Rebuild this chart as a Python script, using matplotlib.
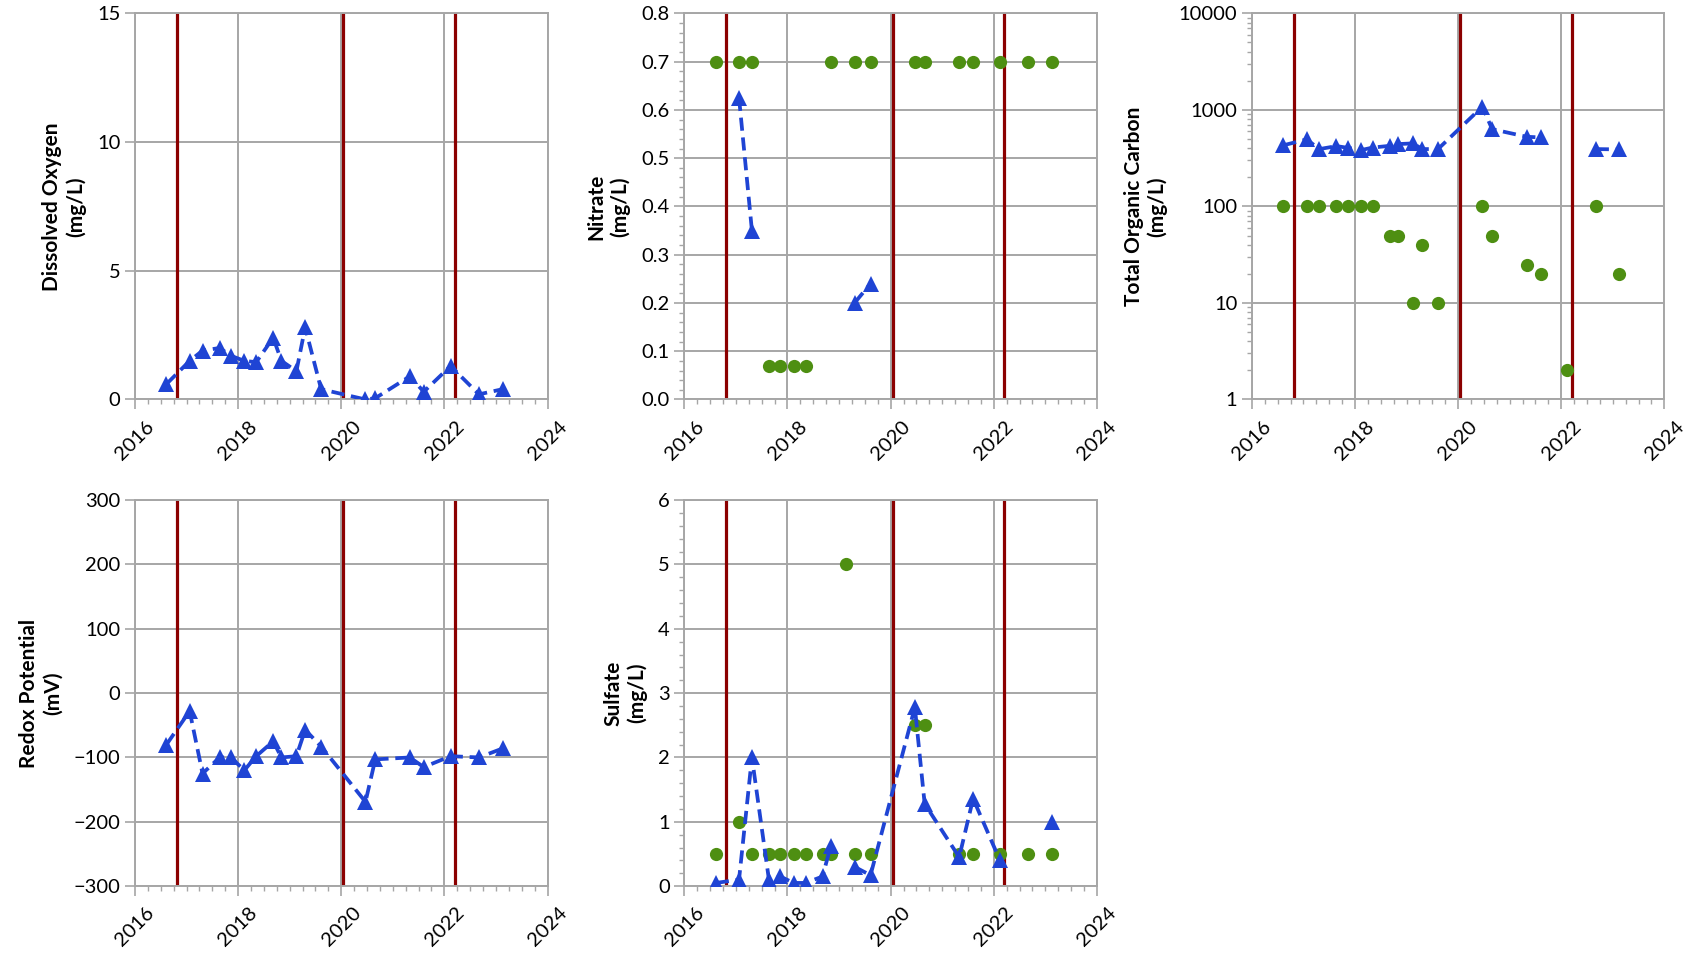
import numpy as np
import matplotlib
matplotlib.use('Agg')
import matplotlib.pyplot as plt
from matplotlib.ticker import MultipleLocator, FixedLocator, FormatStrFormatter, LogLocator, NullFormatter, FuncFormatter

plt.rcParams['font.family'] = ['Lato', 'DejaVu Sans']

#Sampling dates (decimal years) shared by every panel
dates = [2016.61, 2017.06, 2017.31, 2017.64, 2017.86, 2018.12, 2018.35, 2018.68, 2018.84, 2019.13,
         2019.30, 2019.61, 2020.47, 2020.66, 2021.33, 2021.60, 2022.12, 2022.67, 2023.13]
nan = np.nan

#Event lines
events = [2016.81, 2020.04, 2022.20]

#Detected values (blue triangles) and second series (green circles)
do_blue = [0.6, 1.5, 1.9, 2.0, 1.7, 1.5, 1.45, 2.4, 1.5, 1.1, 2.8, 0.4, 0.0, 0.05, 0.9, 0.3, 1.3, 0.2, 0.4]

no3_blue = [nan, 0.625, 0.35, nan, nan, nan, nan, nan, nan, nan, 0.2, 0.24, nan, nan, nan, nan, nan, nan, nan]
no3_green = [0.7, 0.7, 0.7, 0.07, 0.07, 0.07, 0.07, nan, 0.7, nan, 0.7, 0.7, 0.7, 0.7, 0.7, 0.7, 0.7, 0.7, 0.7]

toc_blue = [430, 495, 393, 422, 405, 384, 408, 425, 443, 450, 393, 393, 1080, 632, 527, 519, nan, 393, 390]
toc_green = [100, 100, 100, 100, 100, 100, 100, 50, 50, 10, 40, 10, 100, 50, 25, 20, 2, 100, 20]

orp_blue = [-80, -28, -125, -100, -100, -120, -98, -75, -100, -98, -57, -83, -169, -103, -100, -115, -98, -100, -86]

so4_blue = [0.05, 0.1, 2.0, 0.1, 0.15, 0.05, 0.05, 0.15, 0.63, nan, 0.3, 0.17, 2.78, 1.28, 0.45, 1.36, 0.4, nan, 1.0]
so4_green = [0.5, 1.0, 0.5, 0.5, 0.5, 0.5, 0.5, 0.5, 0.5, 5.0, 0.5, 0.5, 2.5, 2.5, 0.5, 0.5, 0.5, 0.5, 0.5]

year_ticks = [2016, 2018, 2020, 2022, 2024]

BLUE = '#1f44d4'
GREEN = '#4e8f12'
RED = '#8b0000'
GRAY = '#a6a6a6'

fig = plt.figure(figsize=(16.94, 9.58), dpi=100)

lefts = [0.0797, 0.404, 0.739]
w = 0.2435
top_b, bot_b, h = 0.583, 0.075, 0.403


def setup(ax, label, ylim, major, minor=None):
    ax.set_xlim(2016, 2024)
    ax.set_ylim(*ylim)
    ax.xaxis.set_major_locator(FixedLocator(year_ticks))
    ax.xaxis.set_minor_locator(MultipleLocator(0.25))
    ax.set_xticklabels([str(y) for y in year_ticks], rotation=45)
    if major is not None:
        ax.yaxis.set_major_locator(MultipleLocator(major))
    if minor is not None:
        ax.yaxis.set_minor_locator(MultipleLocator(minor))
    ax.grid(True, which='major', color=GRAY, lw=1.4, zorder=0)
    for s in ax.spines.values():
        s.set_color(GRAY)
        s.set_linewidth(1.4)
    ax.tick_params(which='major', length=7, width=1.2, color=GRAY, labelsize=14.5)
    ax.tick_params(which='minor', length=3.5, width=1.0, color=GRAY)
    ax.tick_params(axis='x', which='major', pad=6)
    ax.set_axisbelow(True)
    ax.set_ylabel(label, fontsize=15, fontweight='bold', labelpad=8)
    for e in events:
        ax.axvline(e, color=RED, lw=2.3, zorder=2)


def blue(ax, vals):
    ax.plot(dates, vals, color=BLUE, ls=(0, (3.5, 1.8)), lw=2.7, marker='^', ms=11.5,
            markeredgewidth=0, zorder=4)


def green(ax, vals):
    ax.plot(dates, vals, color=GREEN, ls='none', marker='o', ms=9.5, markeredgewidth=0, zorder=3)


#Dissolved oxygen
ax1 = fig.add_axes([lefts[0], top_b, w, h])
setup(ax1, 'Dissolved Oxygen\n(mg/L)', (0, 15), 5)
blue(ax1, do_blue)

#Nitrate
ax2 = fig.add_axes([lefts[1], top_b, w, h])
setup(ax2, 'Nitrate\n(mg/L)', (0, 0.8), 0.1, 0.02)
ax2.yaxis.set_major_formatter(FormatStrFormatter('%.1f'))
green(ax2, no3_green)
blue(ax2, no3_blue)

#Total organic carbon (log scale)
ax3 = fig.add_axes([lefts[2], top_b, w, h])
ax3.set_yscale('log')
setup(ax3, 'Total Organic Carbon\n(mg/L)', (1, 10000), None)
ax3.yaxis.set_major_locator(LogLocator(base=10))
ax3.yaxis.set_minor_locator(LogLocator(base=10, subs=np.arange(2, 10)))
ax3.yaxis.set_minor_formatter(NullFormatter())
ax3.yaxis.set_major_formatter(FuncFormatter(lambda v, p: '%d' % v))
green(ax3, toc_green)
blue(ax3, toc_blue)

#Redox potential
ax4 = fig.add_axes([lefts[0], bot_b, w, h])
setup(ax4, 'Redox Potential\n(mV)', (-300, 300), 100)
blue(ax4, orp_blue)

#Sulfate
ax5 = fig.add_axes([lefts[1], bot_b, w, h])
setup(ax5, 'Sulfate\n(mg/L)', (0, 6), 1, 0.2)
green(ax5, so4_green)
blue(ax5, so4_blue)

for ax in [ax1, ax4]:
    ax.tick_params(axis='y', which='minor', length=0)

fig.savefig('out.png', dpi=100)
